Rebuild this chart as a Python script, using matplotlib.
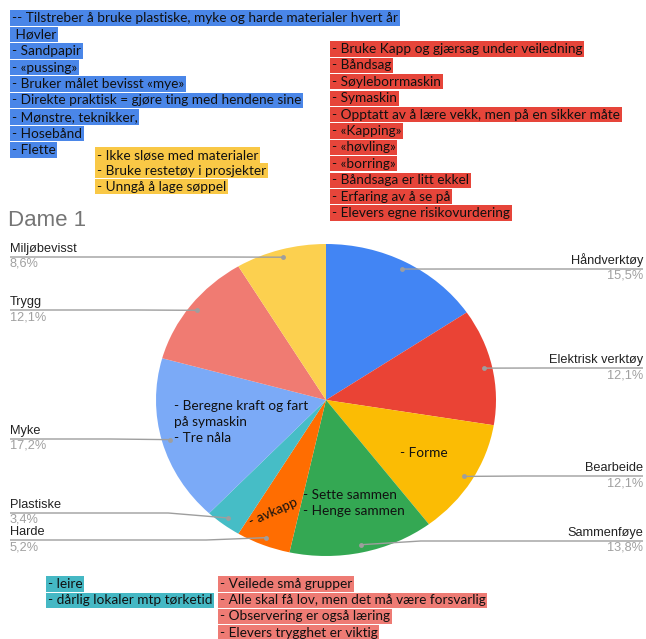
import numpy as np
import matplotlib
matplotlib.use("Agg")
import matplotlib.pyplot as plt

W, H = 646, 639

# pie data (answers counted per category)
categories = ["Håndverktøy", "Elektrisk verktøy", "Bearbeide", "Sammenføye",
              "Harde", "Plastiske", "Myke", "Trygg", "Miljøbevisst"]
counts = [9, 7, 7, 8, 3, 2, 10, 7, 5]
pct_labels = ["15,5%", "12,1%", "12,1%", "13,8%", "5,2%", "3,4%", "17,2%", "12,1%", "8,6%"]
colors = ["#4285f4", "#ea4335", "#fbbc04", "#34a853", "#ff6d01",
          "#46bdc6", "#7baaf7", "#f07b72", "#fcd04f"]

# notes pasted on top of the chart
blue_notes = ["-- Tilstreber å bruke plastiske, myke og harde materialer hvert år",
              " Høvler", "- Sandpapir", "- «pussing»", "- Bruker målet bevisst «mye»",
              "- Direkte praktisk = gjøre ting med hendene sine",
              "- Mønstre, teknikker,", "- Hosebånd", "- Flette"]
yellow_notes = ["- Ikke sløse med materialer", "- Bruke restetøy i prosjekter",
                "- Unngå å lage søppel"]
red_notes = ["- Bruke Kapp og gjærsag under veiledning", "- Båndsag", "- Søyleborrmaskin",
             "- Symaskin", "- Opptatt av å lære vekk, men på en sikker måte",
             "- «Kapping»", "- «høvling»", "- «borring»", "- Båndsaga er litt ekkel",
             "- Erfaring av å se på", "- Elevers egne risikovurdering"]
teal_notes = ["- leire", "- dårlig lokaler mtp tørketid"]
pink_notes = ["- Veilede små grupper", "- Alle skal få lov, men det må være forsvarlig",
              "- Observering er også læring", "- Elevers trygghet er viktig"]

# pie geometry in pixels
cx, cy, rx, ry = 326, 400, 170, 156

fig = plt.figure(figsize=(W / 100, H / 100), dpi=100)
fig.patch.set_facecolor("white")

ax_pie = fig.add_axes([(cx - rx) / W, 1 - (cy + ry) / H, 2 * rx / W, 2 * ry / H])
ax_pie.pie(counts, colors=colors, startangle=90, counterclock=False,
           wedgeprops=dict(linewidth=0))
ax_pie.set_aspect("auto")
ax_pie.set_xlim(-1, 1)
ax_pie.set_ylim(-1, 1)
ax_pie.axis("off")

ax = fig.add_axes([0, 0, 1, 1])
ax.set_xlim(0, W)
ax.set_ylim(H, 0)
ax.axis("off")
ax.patch.set_alpha(0)

ax.text(8, 220, "Dame 1", fontsize=16, color="#757575", family="Liberation Sans",
        va="center", ha="left")

# leader lines and labels
frac = np.array(counts) / sum(counts)
mids = np.cumsum(frac) - frac / 2
angles = np.deg2rad(90 - mids * 360)
dot_x = cx + 0.95 * rx * np.cos(angles)
dot_y = cy - 0.95 * ry * np.sin(angles)

label_y = {"Håndverktøy": 269, "Elektrisk verktøy": 368, "Bearbeide": 476,
           "Sammenføye": 541, "Harde": 540, "Plastiske": 513, "Myke": 439,
           "Trygg": 310, "Miljøbevisst": 257}
for i, name in enumerate(categories):
    ly = label_y[name]
    right = dot_x[i] > cx
    if right:
        xs = [643, dot_x[i] + 60, dot_x[i]]
        tx, ha = 643, "right"
    else:
        xs = [10, dot_x[i] - 60, dot_x[i]]
        tx, ha = 10, "left"
    ax.plot(xs, [ly, ly, dot_y[i]], color="#9e9e9e", lw=1, solid_capstyle="butt")
    ax.plot(dot_x[i], dot_y[i], "o", ms=3.5, color="#9e9e9e", mec="none")
    ax.text(tx, ly - 2, name, fontsize=9.2, color="#222222", ha=ha, va="bottom",
            family="Liberation Sans")
    ax.text(tx, ly + 1, pct_labels[i], fontsize=9.2, color="#a0a0a0", ha=ha, va="top",
            family="Liberation Sans")

# text typed inside slices
note_font = dict(family="Lato", fontsize=9.8, color="#111111")
ax.text(174, 422, "- Beregne kraft og fart\npå symaskin\n- Tre nåla", va="center",
        ha="left", linespacing=1.45, **note_font)
ax.text(400, 453, "- Forme", va="center", ha="left", **note_font)
ax.text(303, 503, "- Sette sammen\n- Henge sammen", va="center", ha="left",
        linespacing=1.35, **note_font)
ax.text(250, 523, "- avkapp", va="center", ha="left", rotation=24,
        rotation_mode="anchor", **note_font)


def highlight(lines, x, y0, step, color):
    for k, line in enumerate(lines):
        ax.text(x, y0 + k * step, line, va="center", ha="left",
                bbox=dict(boxstyle="square,pad=0.12", fc=color, ec="none"),
                **note_font)


highlight(blue_notes, 12, 18, 16.5, "#4a86e8")
highlight(yellow_notes, 97, 155, 15.8, "#f9c846")
highlight(red_notes, 332, 49, 16.4, "#e6453a")
highlight(teal_notes, 48, 584, 16.3, "#45b8c4")
highlight(pink_notes, 220, 584, 16.2, "#ee7b74")

fig.savefig("out.png", dpi=100, facecolor="white")
